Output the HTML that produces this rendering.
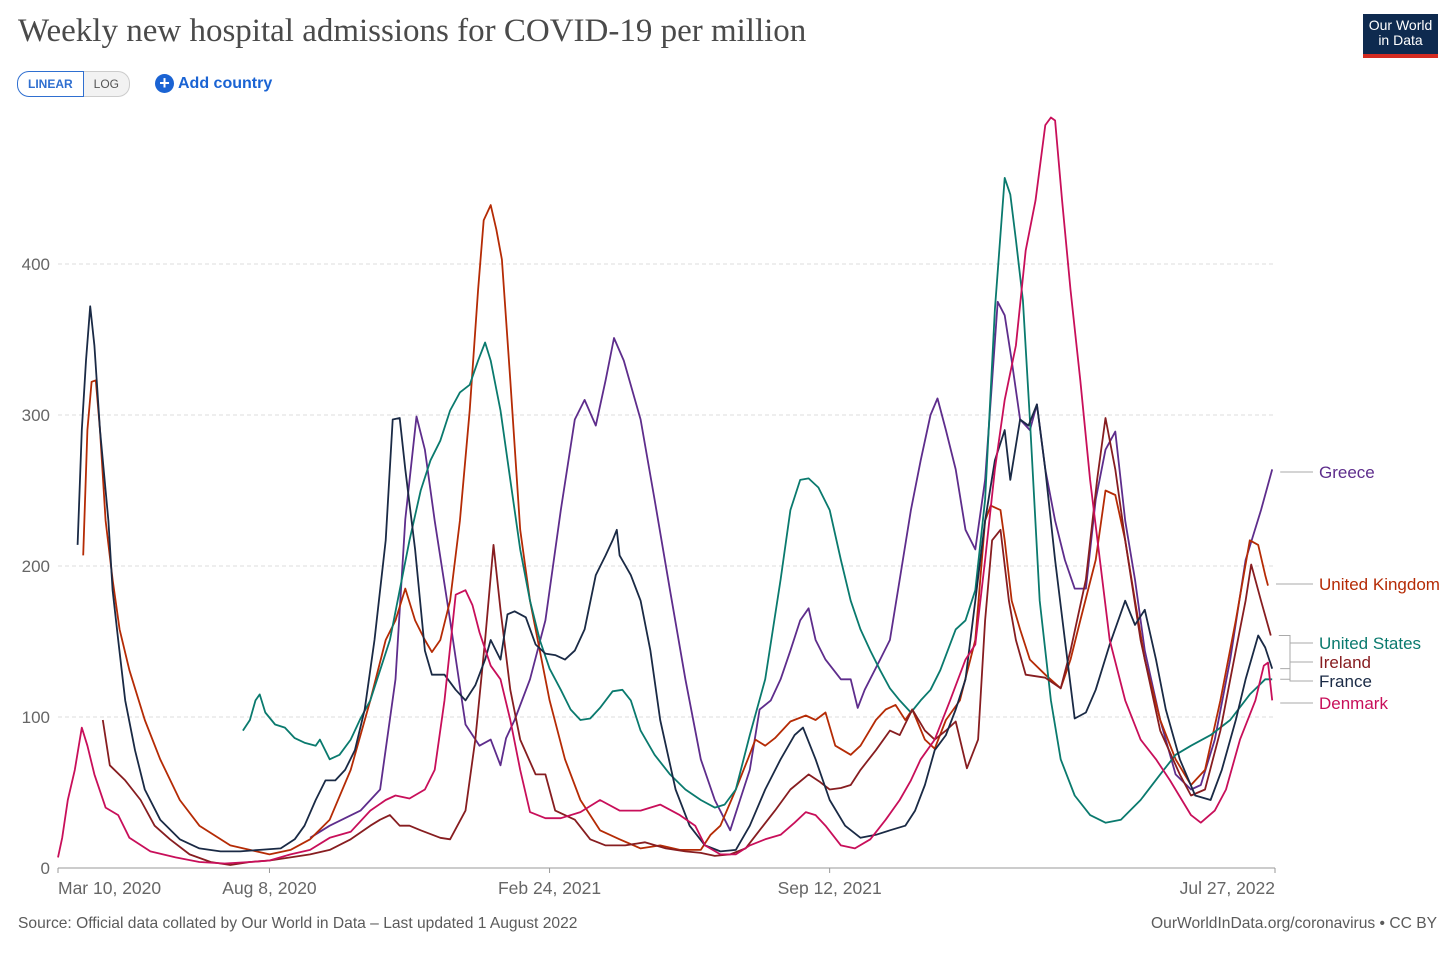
<!DOCTYPE html>
<html><head><meta charset="utf-8"><style>
body{margin:0;background:#fff;width:1456px;height:953px;overflow:hidden;font-family:"Liberation Sans",sans-serif}
#title{position:absolute;left:18px;top:13px;font-family:"Liberation Serif",serif;font-size:33px;color:#4a4a4a}
.btns{position:absolute;left:17px;top:71px;display:flex;font-size:12px}
.b1{border:1px solid #2f6fd0;color:#2f6fd0;border-radius:12px 0 0 12px;padding:5px 10px;font-weight:bold;background:#fff}
.b2{border:1px solid #ccc;border-left:none;color:#555;border-radius:0 12px 12px 0;padding:5px 10px;background:#f2f2f2}
#add{position:absolute;left:155px;top:74px;color:#1a63d3;font-weight:bold;font-size:16px;display:flex;align-items:center;gap:4px}
#add span.c{display:inline-block;width:19px;height:19px;border-radius:50%;background:#1a63d3;color:#fff;text-align:center;line-height:19px;font-size:18px}
#logo{position:absolute;left:1363px;top:14px;width:75px;height:44px;background:#0e2a4f;color:#fff;font-size:14px;line-height:15px;text-align:center;padding-top:4px;box-sizing:border-box;border-bottom:4px solid #d42b21}
.foot{position:absolute;top:915px;font-size:15.6px;color:#5b5b5b}
</style></head><body>
<div id="title">Weekly new hospital admissions for COVID-19 per million</div>
<div class="btns"><div class="b1">LINEAR</div><div class="b2">LOG</div></div>
<div id="add"><span class="c">+</span>Add country</div>
<div id="logo">Our World<br>in Data</div>
<svg id="chart" width="1456" height="953" style="position:absolute;left:0;top:0"></svg>
<div class="foot" style="left:18px">Source: Official data collated by Our World in Data – Last updated 1 August 2022</div>
<div class="foot" style="right:19px">OurWorldInData.org/coronavirus • CC BY</div>
<script>
const yTicks=[0,100,200,300,400];
const xTickDays=[0,151,351,551,869];
const xTickLabels=["Mar 10, 2020","Aug 8, 2020","Feb 24, 2021","Sep 12, 2021","Jul 27, 2022"];
const seriesNames=["Greece","United Kingdom","United States","Ireland","France","Denmark"];
const greece=[[180,20],[194,28],[216,38],[230,52],[241,125],[248,231],[256,299],[262,277],[269,230],[280,164],[291,95],[301,81],[309,85],[316,68],[320,86],[326,98],[337,125],[348,164],[359,237],[369,297],[376,310],[384,293],[391,323],[397,351],[404,336],[416,297],[426,244],[437,184],[448,125],[459,72],[469,45],[480,25],[487,45],[494,65],[501,105],[509,111],[516,125],[523,144],[530,164],[536,172],[541,151],[548,138],[559,125],[566,125],[571,106],[576,118],[587,138],[594,151],[601,191],[609,237],[616,270],[623,300],[628,311],[634,290],[641,264],[648,224],[655,211],[662,257],[671,375],[676,366],[681,336],[687,297],[694,290],[699,307],[705,264],[712,230],[719,204],[726,185],[734,185],[741,244],[748,277],[755,289],[762,230],[769,191],[776,144],[787,98],[798,62],[809,52],[816,55],[826,85],[837,138],[848,204],[859,237],[867,264]];
const uk=[[18,207],[21,290],[24,322],[27,323],[30,290],[34,230],[39,191],[44,158],[51,131],[62,98],[73,72],[87,45],[101,28],[123,15],[137,12],[151,9],[166,12],[180,19],[194,32],[209,65],[223,111],[234,151],[241,164],[248,185],[255,164],[262,151],[267,143],[273,151],[280,177],[287,230],[294,303],[300,383],[304,429],[309,439],[313,423],[317,403],[323,323],[330,224],[337,177],[344,144],[351,111],[362,72],[373,45],[387,25],[401,19],[416,13],[430,15],[444,12],[459,12],[466,22],[473,28],[484,52],[493,73],[498,85],[505,81],[512,86],[523,97],[534,101],[541,98],[548,103],[555,81],[566,75],[573,81],[584,98],[591,105],[598,108],[605,98],[610,105],[619,85],[626,79],[634,98],[644,111],[655,151],[662,230],[666,240],[673,237],[676,217],[681,177],[687,158],[694,138],[705,128],[716,119],[723,138],[730,164],[741,204],[748,250],[755,247],[762,217],[769,177],[776,138],[787,98],[798,72],[809,55],[819,65],[830,111],[841,164],[851,217],[857,214],[862,194],[864,187]];
const us=[[132,91],[137,98],[141,111],[144,115],[148,103],[155,95],[162,93],[169,86],[176,83],[184,81],[187,85],[194,72],[201,75],[209,85],[216,99],[223,111],[230,131],[237,151],[244,184],[251,217],[259,250],[266,270],[273,283],[280,303],[287,315],[294,320],[300,336],[305,348],[309,336],[316,303],[323,257],[330,211],[337,177],[344,151],[351,132],[359,118],[366,105],[373,98],[380,99],[387,106],[396,117],[403,118],[409,111],[416,91],[426,75],[437,62],[448,52],[459,45],[469,40],[476,42],[484,52],[494,88],[505,125],[516,191],[523,237],[530,257],[536,258],[543,252],[551,237],[559,204],[566,177],[573,158],[580,144],[587,131],[594,119],[601,111],[609,103],[616,111],[623,118],[630,131],[641,158],[648,164],[655,184],[662,244],[669,370],[676,457],[680,446],[684,416],[689,376],[694,297],[701,177],[709,111],[716,72],[726,48],[737,35],[748,30],[759,32],[773,45],[787,62],[798,75],[809,81],[823,88],[837,98],[851,115],[862,125],[867,125]];
const ireland=[[32,98],[37,68],[48,58],[59,45],[69,28],[80,19],[94,9],[109,4],[123,2],[137,4],[151,5],[166,7],[180,9],[194,12],[209,19],[223,28],[230,32],[237,35],[244,28],[251,28],[259,25],[273,20],[280,19],[291,38],[298,85],[305,151],[311,214],[316,171],[323,118],[330,85],[341,62],[348,62],[355,38],[369,32],[380,19],[391,15],[405,15],[419,17],[434,13],[448,11],[459,10],[469,8],[480,9],[491,13],[501,25],[512,38],[523,52],[536,62],[544,57],[551,52],[559,53],[566,55],[573,65],[584,78],[594,91],[601,88],[610,105],[619,91],[626,85],[634,91],[641,97],[649,66],[657,85],[662,164],[667,217],[673,224],[679,177],[684,151],[691,128],[705,126],[716,119],[723,144],[734,191],[742,257],[748,298],[755,264],[762,217],[773,151],[787,91],[801,62],[809,48],[819,52],[830,91],[841,144],[848,177],[852,201],[859,177],[866,154]];
const france=[[14,214],[17,290],[20,336],[23,372],[26,346],[30,290],[36,230],[39,184],[43,151],[48,111],[55,78],[62,52],[73,32],[87,19],[101,13],[116,11],[130,11],[144,12],[159,13],[169,19],[176,28],[184,45],[191,58],[198,58],[205,65],[212,78],[219,105],[226,151],[234,217],[239,297],[244,298],[248,264],[255,211],[262,144],[267,128],[276,128],[284,118],[291,111],[298,121],[305,138],[309,151],[316,138],[321,168],[326,170],[334,166],[341,148],[348,142],[355,141],[362,138],[369,144],[376,158],[384,194],[391,207],[396,217],[399,224],[401,207],[409,194],[416,177],[423,144],[430,98],[441,52],[451,28],[462,15],[473,11],[484,12],[494,28],[505,52],[516,72],[526,88],[532,93],[541,72],[551,45],[562,28],[573,20],[584,22],[594,25],[605,28],[612,38],[619,55],[626,78],[634,88],[641,105],[648,125],[655,177],[662,230],[669,270],[676,290],[680,257],[687,297],[693,293],[699,307],[705,264],[712,204],[719,151],[726,99],[734,103],[741,118],[751,148],[762,177],[769,161],[776,171],[784,138],[791,105],[801,72],[812,48],[823,45],[831,65],[841,98],[848,125],[857,154],[862,146],[867,132]];
const denmark=[[0,7],[3,20],[7,45],[12,65],[17,93],[21,81],[26,62],[34,40],[43,35],[51,20],[66,11],[84,7],[101,4],[119,3],[137,4],[151,5],[166,9],[180,12],[194,20],[209,24],[223,38],[234,45],[241,48],[251,46],[262,52],[269,65],[276,111],[284,181],[291,184],[296,174],[301,156],[309,134],[316,125],[323,98],[330,65],[337,37],[348,33],[359,33],[373,37],[387,45],[401,38],[416,38],[430,42],[444,35],[455,28],[462,15],[473,9],[484,9],[494,15],[505,19],[516,22],[526,30],[534,37],[541,35],[548,28],[559,15],[569,13],[580,19],[591,32],[601,45],[609,58],[616,72],[626,85],[637,111],[648,138],[655,148],[662,204],[669,264],[676,310],[684,346],[691,409],[698,442],[705,492],[709,497],[712,495],[717,442],[723,383],[730,323],[737,257],[744,204],[751,151],[762,111],[773,85],[784,72],[794,58],[809,35],[816,30],[826,38],[834,52],[844,85],[855,111],[861,134],[864,136],[867,111]];
const seriesData=[greece,uk,us,ireland,france,denmark];
const colors=["#5e2d8c","#b52b05","#0a7a6e","#871d20","#1a2a45","#c80f5a"];
const labelY=[472,584,643,662,681,703];
const NS="http://www.w3.org/2000/svg";
const svg=document.getElementById('chart');
const X0=58,X1=1275,Y0=868,Y400=264;
function x(d){return X0+d*(X1-X0)/869;}
function y(v){return Y0-v*(Y0-Y400)/400;}
function mk(t,a){const e=document.createElementNS(NS,t);for(const k in a)e.setAttribute(k,a[k]);svg.appendChild(e);return e;}
yTicks.forEach(t=>{
  const g=mk('line',{x1:X0,x2:X1,y1:y(t),y2:y(t),stroke:t===0?'#999':'#ddd','stroke-dasharray':t===0?'':'4,3'});
  
  
  const l=mk('text',{x:50,y:y(t)+6,'text-anchor':'end','font-size':17,fill:'#666','font-family':'Liberation Sans, sans-serif'});
  l.textContent=t;
  
  
});
xTickDays.forEach((d,i)=>{
  const tk=mk('line',{x1:x(d),x2:x(d),y1:Y0,y2:Y0+5,stroke:'#999'});
  
  
  const anchor=i===0?'start':(i===xTickDays.length-1?'end':'middle');
  const l=mk('text',{x:x(d),y:894,'text-anchor':anchor,'font-size':17.5,fill:'#666','font-family':'Liberation Sans, sans-serif'});
  l.textContent=xTickLabels[i];
  
  
});
seriesData.forEach((s,i)=>{
  const p=mk('polyline',{points:s.map(q=>x(q[0]).toFixed(1)+','+y(q[1]).toFixed(1)).join(' '),fill:'none',stroke:colors[i],'stroke-width':1.8,'stroke-linejoin':'round'});
  
  
  const last=s[s.length-1];
  const ly=labelY[i], sy=y(last[1]);
  let d;
  if(Math.abs(sy-ly)<3) d=`M${x(last[0])+8},${ly} H1313`;
  else d=`M${x(last[0])+8},${sy} H1290 V${ly} H1313`;
  const c=mk('path',{d:d,fill:'none',stroke:'#aaa','stroke-width':1});
  
  
  const t=mk('text',{x:1319,y:ly+6,'font-size':17,fill:colors[i],'font-family':'Liberation Sans, sans-serif'});
  t.textContent=seriesNames[i];
  
  
});
</script>
</body></html>
